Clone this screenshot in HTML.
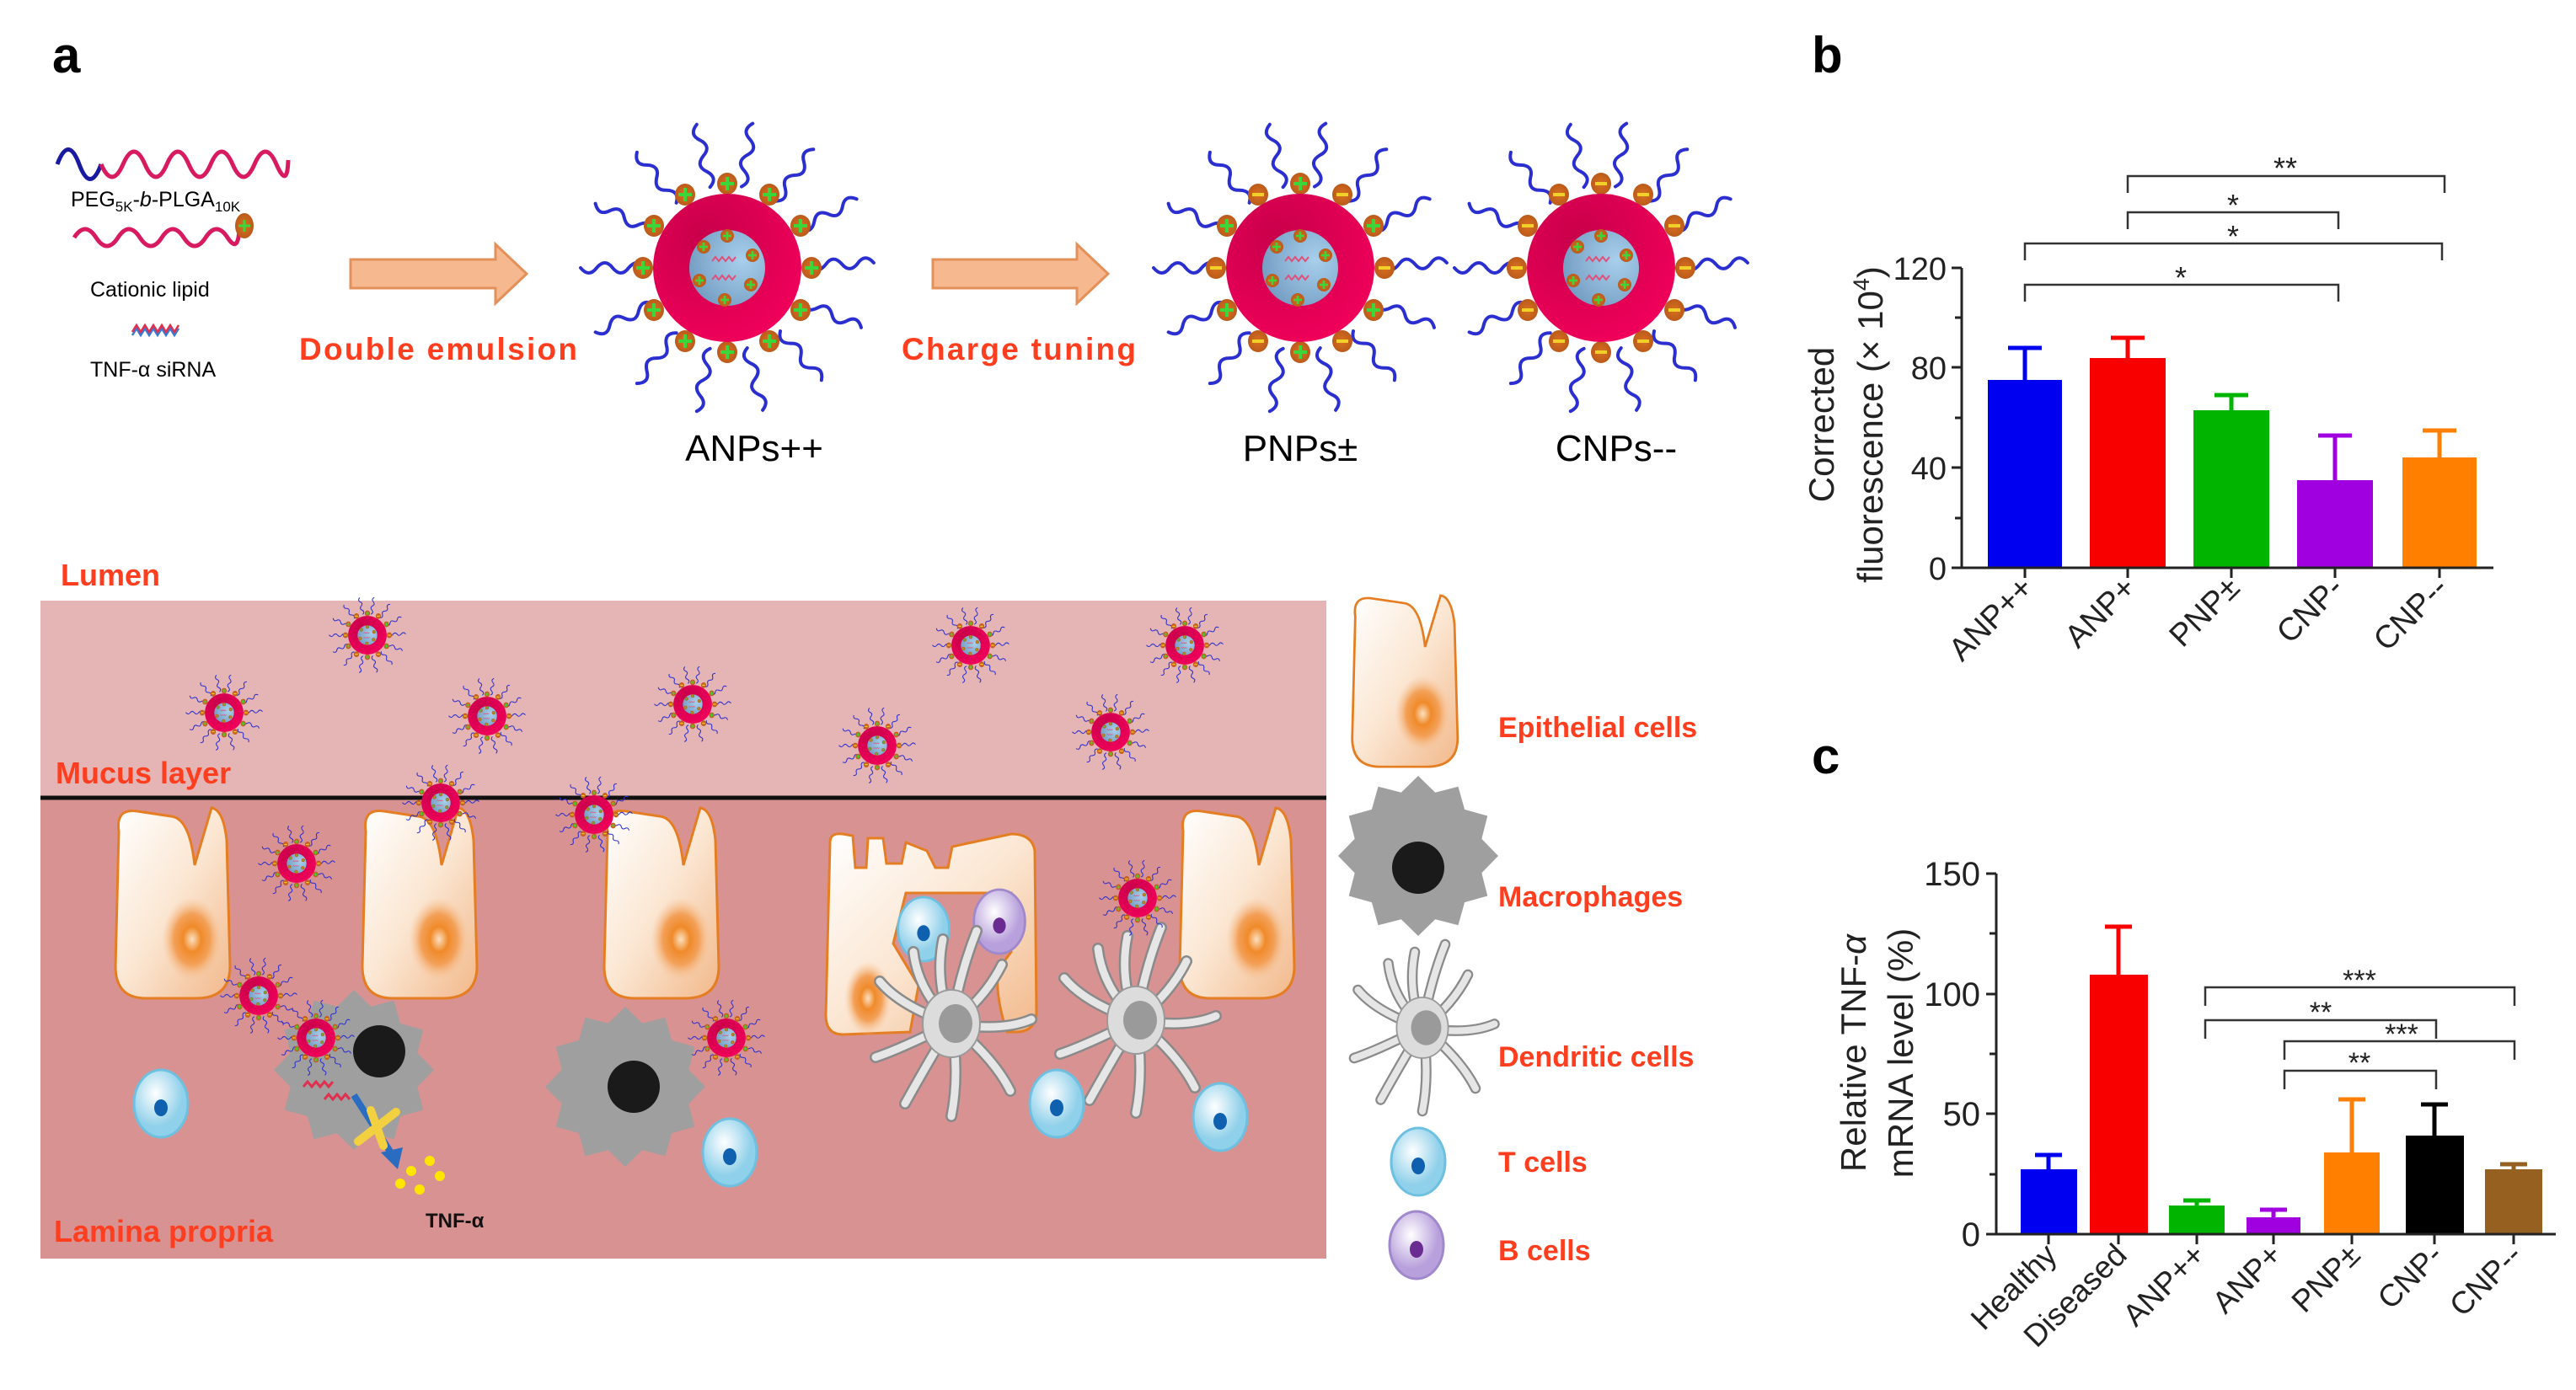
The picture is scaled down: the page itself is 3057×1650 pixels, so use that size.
<!DOCTYPE html>
<html><head><meta charset="utf-8"><style>
html,body{margin:0;padding:0;background:#fff;}
svg{display:block;}
text{font-family:"Liberation Sans",Arial,sans-serif;}
</style></head><body>
<svg width="3057" height="1650" viewBox="0 0 3057 1650" xmlns="http://www.w3.org/2000/svg">
<defs>
<radialGradient id="gOuter" cx="35%" cy="30%" r="75%"><stop offset="0" stop-color="#c8004a"/><stop offset="1" stop-color="#f0005a"/></radialGradient>
<radialGradient id="gInner" cx="70%" cy="40%" r="80%"><stop offset="0" stop-color="#a8d0ec"/><stop offset="1" stop-color="#6f98bf"/></radialGradient>
<radialGradient id="gBead" cx="50%" cy="50%" r="55%"><stop offset="0" stop-color="#d87020"/><stop offset="1" stop-color="#b8581a"/></radialGradient>
<linearGradient id="gEpi" x1="0" y1="0" x2="1" y2="1"><stop offset="0" stop-color="#ffffff"/><stop offset="0.5" stop-color="#fbe6d2"/><stop offset="1" stop-color="#f2b88a"/></linearGradient>
<radialGradient id="gNuc"><stop offset="0" stop-color="#fbe0c0"/><stop offset="0.3" stop-color="#f08a2a"/><stop offset="0.6" stop-color="#f3a058"/><stop offset="1" stop-color="#f7c9a0" stop-opacity="0"/></radialGradient>
<radialGradient id="gT" cx="40%" cy="35%"><stop offset="0" stop-color="#ffffff"/><stop offset="1" stop-color="#8fd0ea"/></radialGradient>
<radialGradient id="gB" cx="40%" cy="35%"><stop offset="0" stop-color="#ffffff"/><stop offset="1" stop-color="#b8a0dc"/></radialGradient>

<g id="chain"><path d="M0,-98 q12,-9 0,-19 q-12,-9 0,-19 q12,-9 0,-19 q-12,-9 0,-19" fill="none" stroke="#2b2fd0" stroke-width="4" stroke-linecap="round"/></g>
<g id="beadP"><ellipse cx="0" cy="0" rx="12" ry="13" fill="url(#gBead)"/><path d="M-8,0 H8 M0,-8 V8" stroke="#3ad63a" stroke-width="4"/></g>
<g id="beadM"><ellipse cx="0" cy="0" rx="12" ry="13" fill="url(#gBead)"/><path d="M-7,0 H7" stroke="#f2d02a" stroke-width="4"/></g>
<g id="beadI"><circle r="8" fill="url(#gBead)"/><path d="M-5,0 H5 M0,-5 V5" stroke="#3ad63a" stroke-width="2.5"/></g>

<g id="core">
<use href="#chain" transform="rotate(10)"/><use href="#chain" transform="rotate(36)"/><use href="#chain" transform="rotate(62)"/><use href="#chain" transform="rotate(88)"/><use href="#chain" transform="rotate(114)"/><use href="#chain" transform="rotate(140)"/><use href="#chain" transform="rotate(166)"/><use href="#chain" transform="rotate(192)"/><use href="#chain" transform="rotate(218)"/><use href="#chain" transform="rotate(244)"/><use href="#chain" transform="rotate(270)"/><use href="#chain" transform="rotate(296)"/><use href="#chain" transform="rotate(322)"/><use href="#chain" transform="rotate(348)"/>
</g>
<g id="center">
<circle r="88" fill="url(#gOuter)"/>
<circle r="45" fill="url(#gInner)"/>
<path d="M-18,-8 l4,-5 l4,5 l4,-5 l4,5 l4,-5 l4,5 l4,-5 M-18,14 l4,-5 l4,5 l4,-5 l4,5 l4,-5 l4,5 l4,-5" fill="none" stroke="#e0507a" stroke-width="2"/>
<use href="#beadI" transform="translate(0,-38)"/><use href="#beadI" transform="translate(30,-15)"/><use href="#beadI" transform="translate(28,20)"/><use href="#beadI" transform="translate(-3,38)"/><use href="#beadI" transform="translate(-33,15)"/><use href="#beadI" transform="translate(-28,-25)"/>
</g>
<g id="ANP">
<use href="#core"/>
<use href="#beadP" transform="translate(0,-100)"/>
<use href="#beadP" transform="translate(50,-87)"/><use href="#beadP" transform="translate(87,-50)"/><use href="#beadP" transform="translate(100,0)"/><use href="#beadP" transform="translate(87,50)"/><use href="#beadP" transform="translate(50,87)"/><use href="#beadP" transform="translate(0,100)"/><use href="#beadP" transform="translate(-50,87)"/><use href="#beadP" transform="translate(-87,50)"/><use href="#beadP" transform="translate(-100,0)"/><use href="#beadP" transform="translate(-87,-50)"/><use href="#beadP" transform="translate(-50,-87)"/>
<use href="#center"/>
</g>
<g id="PNP">
<use href="#core"/>
<use href="#beadP" transform="translate(0,-100)"/><use href="#beadM" transform="translate(50,-87)"/><use href="#beadP" transform="translate(87,-50)"/><use href="#beadM" transform="translate(100,0)"/><use href="#beadP" transform="translate(87,50)"/><use href="#beadM" transform="translate(50,87)"/><use href="#beadP" transform="translate(0,100)"/><use href="#beadM" transform="translate(-50,87)"/><use href="#beadP" transform="translate(-87,50)"/><use href="#beadM" transform="translate(-100,0)"/><use href="#beadP" transform="translate(-87,-50)"/><use href="#beadM" transform="translate(-50,-87)"/>
<use href="#center"/>
</g>
<g id="CNP">
<use href="#core"/>
<use href="#beadM" transform="translate(0,-100)"/><use href="#beadM" transform="translate(50,-87)"/><use href="#beadM" transform="translate(87,-50)"/><use href="#beadM" transform="translate(100,0)"/><use href="#beadM" transform="translate(87,50)"/><use href="#beadM" transform="translate(50,87)"/><use href="#beadM" transform="translate(0,100)"/><use href="#beadM" transform="translate(-50,87)"/><use href="#beadM" transform="translate(-87,50)"/><use href="#beadM" transform="translate(-100,0)"/><use href="#beadM" transform="translate(-87,-50)"/><use href="#beadM" transform="translate(-50,-87)"/>
<use href="#center"/>
</g>
<g id="np"><g transform="scale(0.26)"><use href="#PNP"/></g></g>

<g id="epi">
<path d="M8,30 Q4,2 30,6 L70,12 Q92,14 98,70 L118,2 Q132,4 136,40 L140,190 Q140,228 100,228 L40,228 Q4,228 4,190 Z" fill="url(#gEpi)" stroke="#e57e22" stroke-width="3"/>
<ellipse cx="95" cy="158" rx="36" ry="50" fill="url(#gNuc)"/>
</g>
<g id="mac"><polygon points="95,0 75.3,20.2 82.3,47.5 55.1,55.1 47.5,82.3 20.2,75.3 0,95 -20.2,75.3 -47.5,82.3 -55.1,55.1 -82.3,47.5 -75.3,20.2 -95,0 -75.3,-20.2 -82.3,-47.5 -55.1,-55.1 -47.5,-82.3 -20.2,-75.3 0,-95 20.2,-75.3 47.5,-82.3 55.1,-55.1 82.3,-47.5 75.3,-20.2" fill="#9f9f9f"/></g>
<g id="dcArms" fill="none" stroke-linecap="round">
<path d="M0,0 Q-20,-50 -10,-100 M0,0 Q10,-60 30,-110 M0,0 Q40,-30 60,-70 M0,0 Q60,10 95,-5 M0,0 Q50,40 70,80 M0,0 Q10,60 0,110 M0,0 Q-30,50 -55,95 M0,0 Q-60,30 -90,40 M0,0 Q-60,-20 -85,-50 M0,0 Q-40,-40 -45,-85"/>
</g>
<g id="dc">
<use href="#dcArms" stroke="#8a8a8a" stroke-width="14"/>
<use href="#dcArms" stroke="#e6e6e6" stroke-width="9"/>
<ellipse rx="34" ry="40" fill="#dcdcdc" stroke="#999" stroke-width="2"/>
<ellipse cx="5" cy="0" rx="20" ry="23" fill="#9a9a9a"/>
</g>
<g id="tcell"><ellipse rx="32" ry="40" fill="url(#gT)" stroke="#6ec0e0" stroke-width="3"/><ellipse cx="0" cy="5" rx="8" ry="10" fill="#1060b0"/></g>
<g id="bcell"><ellipse rx="32" ry="40" fill="url(#gB)" stroke="#a088cc" stroke-width="3"/><ellipse cx="0" cy="5" rx="8" ry="10" fill="#6a2c90"/></g>
</defs>

<text x="62" y="86" font-size="60" font-weight="bold">a</text>
<text x="2150" y="86" font-size="60" font-weight="bold">b</text>
<text x="2150" y="918" font-size="60" font-weight="bold">c</text>

<path d="M68,195 Q81,160 94,195 T120,195" fill="none" stroke="#1a1aa0" stroke-width="5"/>
<path d="M120,195 Q133,225 146,195 T172,195 T198,195 T224,195 T250,195 T276,195 T302,195 T328,195 T342,190" fill="none" stroke="#d81b60" stroke-width="5"/>
<text x="84" y="245" font-size="25">PEG<tspan font-size="17" dy="6">5K</tspan><tspan dy="-6">-</tspan><tspan font-style="italic">b</tspan>-PLGA<tspan font-size="17" dy="6">10K</tspan></text>
<path d="M88,282 Q101,262 114,282 T140,282 T166,282 T192,282 T218,282 T244,282 T270,282 T284,270" fill="none" stroke="#d81b60" stroke-width="5"/>
<ellipse cx="290" cy="268" rx="11" ry="15" fill="url(#gBead)"/><path d="M283,268 H297 M290,261 V275" stroke="#3ad63a" stroke-width="3"/>
<text x="107" y="352" font-size="25">Cationic lipid</text>
<path d="M157,398 l5,-8 l5,8 l5,-8 l5,8 l5,-8 l5,8 l5,-8 l5,8 l5,-8 l5,8 l5,-8" fill="none" stroke="#3a7ad0" stroke-width="2.5"/>
<path d="M157,394 l5,-8 l5,8 l5,-8 l5,8 l5,-8 l5,8 l5,-8 l5,8 l5,-8 l5,8 l5,-8" fill="none" stroke="#e03050" stroke-width="2.5"/>
<text x="107" y="447" font-size="25">TNF-α siRNA</text>

<path d="M416,308 H588 V290 L625,325 L588,360 V342 H416 Z" fill="#f6b88e" stroke="#e4905a" stroke-width="3"/>
<path d="M1107,308 H1278 V290 L1315,325 L1278,360 V342 H1107 Z" fill="#f6b88e" stroke="#e4905a" stroke-width="3"/>
<text x="355" y="427" font-size="37" font-weight="bold" fill="#ff3d1f" textLength="330">Double emulsion</text>
<text x="1070" y="427" font-size="37" font-weight="bold" fill="#ff3d1f" textLength="278">Charge tuning</text>

<use href="#ANP" transform="translate(863,318)"/>
<use href="#PNP" transform="translate(1543,318)"/>
<use href="#CNP" transform="translate(1900,318)"/>
<text x="895" y="547" font-size="44" text-anchor="middle">ANPs++</text>
<text x="1543" y="547" font-size="44" text-anchor="middle">PNPs±</text>
<text x="1918" y="547" font-size="44" text-anchor="middle">CNPs--</text>

<rect x="48" y="713" width="1526" height="234" fill="#e5b5b5"/>
<rect x="48" y="947" width="1526" height="547" fill="#d99292"/>
<line x1="48" y1="947" x2="1574" y2="947" stroke="#111" stroke-width="5"/>
<text x="72" y="695" font-size="36" font-weight="bold" fill="#ff3d1f">Lumen</text>
<text x="66" y="930" font-size="36" font-weight="bold" fill="#ff3d1f">Mucus layer</text>
<text x="64" y="1474" font-size="36" font-weight="bold" fill="#ff3d1f">Lamina propria</text>

<use href="#epi" transform="translate(133,957)"/>
<use href="#epi" transform="translate(426,957)"/>
<use href="#epi" transform="translate(713,957)"/>
<use href="#epi" transform="translate(1396,957)"/>
<path d="M985,1000 Q985,988 1000,990 L1012,992 L1015,1030 L1028,1030 L1030,995 L1048,995 L1052,1025 L1070,1025 L1075,1000 L1100,1010 L1110,1030 L1125,1030 L1130,1005 L1200,990 Q1225,990 1228,1010 L1230,1200 Q1230,1225 1205,1225 L1195,1225 Q1180,1180 1185,1150 L1200,1130 L1200,1060 L1075,1060 L1060,1120 L1090,1170 L1080,1225 L1000,1228 Q980,1228 980,1205 Z" fill="url(#gEpi)" stroke="#e57e22" stroke-width="3"/>
<ellipse cx="1030" cy="1185" rx="28" ry="44" fill="url(#gNuc)"/>

<use href="#tcell" transform="translate(1096,1103) scale(0.95)"/>
<use href="#bcell" transform="translate(1186,1094) scale(0.95)"/>

<use href="#mac" transform="translate(420,1270)"/>
<circle cx="450" cy="1248" r="31" fill="#1a1a1a"/>
<use href="#mac" transform="translate(742,1290)"/>
<circle cx="752" cy="1290" r="31" fill="#1a1a1a"/>

<use href="#dc" transform="translate(1129,1215)"/>
<use href="#dc" transform="translate(1348,1211)"/>

<use href="#tcell" transform="translate(191,1310)"/>
<use href="#tcell" transform="translate(866,1368)"/>
<use href="#tcell" transform="translate(1254,1310)"/>
<use href="#tcell" transform="translate(1448,1326)"/>

<use href="#np" transform="translate(436,754)"/>
<use href="#np" transform="translate(266,846)"/>
<use href="#np" transform="translate(578,850)"/>
<use href="#np" transform="translate(822,836)"/>
<use href="#np" transform="translate(1041,885)"/>
<use href="#np" transform="translate(1152,766)"/>
<use href="#np" transform="translate(1318,869)"/>
<use href="#np" transform="translate(1406,766)"/>
<use href="#np" transform="translate(523,953)"/>
<use href="#np" transform="translate(705,967)"/>
<use href="#np" transform="translate(352,1025)"/>
<use href="#np" transform="translate(307,1182)"/>
<use href="#np" transform="translate(375,1232)"/>
<use href="#np" transform="translate(862,1232)"/>
<use href="#np" transform="translate(1350,1066)"/>

<path d="M360,1290 l5,-6 l5,6 l5,-6 l5,6 l5,-6 l5,6 l5,-6 M385,1305 l5,-6 l5,6 l5,-6 l5,6 l5,-6 l5,6" fill="none" stroke="#e03050" stroke-width="3"/>
<path d="M420,1300 L465,1370" stroke="#2a6cc0" stroke-width="8"/>
<polygon points="452,1368 478,1362 472,1388" fill="#2a6cc0"/>
<path d="M425,1355 L470,1320 M440,1318 L455,1360" stroke="#f2d040" stroke-width="10" stroke-linecap="round"/>
<circle cx="488" cy="1390" r="6" fill="#ffe600"/><circle cx="510" cy="1378" r="6" fill="#ffe600"/><circle cx="522" cy="1396" r="6" fill="#ffe600"/><circle cx="498" cy="1412" r="6" fill="#ffe600"/><circle cx="475" cy="1405" r="6" fill="#ffe600"/>
<text x="505" y="1457" font-size="24" font-weight="bold" fill="#111">TNF-α</text>

<use href="#epi" transform="translate(1601,705) scale(0.92,0.9)"/>
<text x="1778" y="875" font-size="34" font-weight="bold" fill="#ff3d1f">Epithelial cells</text>
<use href="#mac" transform="translate(1683,1016)"/>
<circle cx="1683" cy="1030" r="31" fill="#1a1a1a"/>
<text x="1778" y="1076" font-size="34" font-weight="bold" fill="#ff3d1f">Macrophages</text>
<use href="#dc" transform="translate(1688,1220) scale(0.9)"/>
<text x="1778" y="1266" font-size="34" font-weight="bold" fill="#ff3d1f">Dendritic cells</text>
<use href="#tcell" transform="translate(1683,1379)"/>
<text x="1778" y="1391" font-size="34" font-weight="bold" fill="#ff3d1f">T cells</text>
<use href="#bcell" transform="translate(1681,1478)"/>
<text x="1778" y="1496" font-size="34" font-weight="bold" fill="#ff3d1f">B cells</text>

<!-- chart b -->
<g>
<rect x="2359" y="451" width="88" height="223" fill="#0000f0"/>
<rect x="2480" y="425" width="90" height="249" fill="#f80000"/>
<rect x="2603" y="487" width="90" height="187" fill="#00b400"/>
<rect x="2726" y="570" width="90" height="104" fill="#a000e0"/>
<rect x="2851" y="543" width="88" height="131" fill="#ff7f00"/>
<g stroke-width="5">
<path d="M2403,451 V413 M2383,413 H2423" stroke="#0000f0"/>
<path d="M2525,425 V401 M2505,401 H2545" stroke="#f80000"/>
<path d="M2648,487 V469 M2628,469 H2668" stroke="#00b400"/>
<path d="M2771,570 V517 M2751,517 H2791" stroke="#a000e0"/>
<path d="M2895,543 V511 M2875,511 H2915" stroke="#ff7f00"/>
</g>
<path d="M2328,318 V674 H2959" fill="none" stroke="#222" stroke-width="3"/>
<path d="M2316,318 H2328 M2320,377 H2328 M2316,436 H2328 M2320,496 H2328 M2316,555 H2328 M2320,615 H2328 M2316,674 H2328 M2403,674 V686 M2525,674 V686 M2648,674 V686 M2771,674 V686 M2895,674 V686" stroke="#222" stroke-width="3"/>
<g font-size="38" fill="#222" text-anchor="end">
<text x="2310" y="332">120</text><text x="2310" y="450">80</text><text x="2310" y="569">40</text><text x="2310" y="688">0</text>
</g>
<g stroke="#333" stroke-width="2.5" fill="none">
<path d="M2525,229 V209 H2901 V229"/>
<path d="M2525,272 V252 H2775 V272"/>
<path d="M2403,309 V289 H2898 V309"/>
<path d="M2403,358 V338 H2775 V358"/>
</g>
<g font-size="36" fill="#222" text-anchor="middle">
<text x="2712" y="212">**</text><text x="2650" y="256">*</text><text x="2650" y="293">*</text><text x="2588" y="342">*</text>
</g>
<text transform="translate(2176,504) rotate(-90)" font-size="42" text-anchor="middle" fill="#222">Corrected</text>
<text transform="translate(2234,504) rotate(-90)" font-size="42" text-anchor="middle" fill="#222">fluorescence (× 10<tspan font-size="27" dy="-16">4</tspan><tspan dy="16">)</tspan></text>
<g font-size="38" fill="#222" text-anchor="end">
<text transform="translate(2415,700) rotate(-45)">ANP++</text>
<text transform="translate(2537,700) rotate(-45)">ANP+</text>
<text transform="translate(2660,700) rotate(-45)">PNP±</text>
<text transform="translate(2783,700) rotate(-45)">CNP-</text>
<text transform="translate(2907,700) rotate(-45)">CNP--</text>
</g>
</g>

<!-- chart c -->
<g>
<rect x="2398" y="1388" width="67" height="77" fill="#0000f0"/>
<rect x="2480" y="1157" width="69" height="308" fill="#f80000"/>
<rect x="2574" y="1431" width="66" height="34" fill="#00b400"/>
<rect x="2666" y="1445" width="64" height="20" fill="#a000e0"/>
<rect x="2758" y="1368" width="66" height="97" fill="#ff7f00"/>
<rect x="2855" y="1348" width="69" height="117" fill="#000"/>
<rect x="2949" y="1388" width="68" height="77" fill="#956020"/>
<g stroke-width="5">
<path d="M2431,1388 V1371 M2415,1371 H2447" stroke="#0000f0"/>
<path d="M2514,1157 V1100 M2498,1100 H2530" stroke="#f80000"/>
<path d="M2607,1431 V1425 M2591,1425 H2623" stroke="#00b400"/>
<path d="M2698,1445 V1436 M2682,1436 H2714" stroke="#a000e0"/>
<path d="M2791,1368 V1305 M2775,1305 H2807" stroke="#ff7f00"/>
<path d="M2889,1348 V1311 M2873,1311 H2905" stroke="#000"/>
<path d="M2983,1388 V1382 M2967,1382 H2999" stroke="#956020"/>
</g>
<path d="M2369,1037 V1465 H3033" fill="none" stroke="#222" stroke-width="3"/>
<path d="M2357,1037 H2369 M2361,1108 H2369 M2357,1180 H2369 M2361,1251 H2369 M2357,1322 H2369 M2361,1394 H2369 M2357,1465 H2369 M2431,1465 V1477 M2514,1465 V1477 M2607,1465 V1477 M2698,1465 V1477 M2791,1465 V1477 M2889,1465 V1477 M2983,1465 V1477" stroke="#222" stroke-width="3"/>
<g font-size="40" fill="#222" text-anchor="end">
<text x="2350" y="1051">150</text><text x="2350" y="1194">100</text><text x="2350" y="1336">50</text><text x="2350" y="1479">0</text>
</g>
<g stroke="#333" stroke-width="2.5" fill="none">
<path d="M2617,1194 V1172 H2984 V1194"/>
<path d="M2617,1233 V1211 H2891 V1233"/>
<path d="M2711,1258 V1236 H2984 V1258"/>
<path d="M2711,1293 V1271 H2891 V1293"/>
</g>
<g font-size="34" fill="#222" text-anchor="middle">
<text x="2800" y="1175">***</text><text x="2754" y="1213">**</text><text x="2850" y="1239">***</text><text x="2800" y="1273">**</text>
</g>
<text transform="translate(2214,1250) rotate(-90)" font-size="42" text-anchor="middle" fill="#222">Relative TNF-<tspan font-style="italic">α</tspan></text>
<text transform="translate(2270,1250) rotate(-90)" font-size="42" text-anchor="middle" fill="#222">mRNA level (%)</text>
<g font-size="37" fill="#222" text-anchor="end">
<text transform="translate(2443,1492) rotate(-45)">Healthy</text>
<text transform="translate(2526,1492) rotate(-45)">Diseased</text>
<text transform="translate(2619,1492) rotate(-45)">ANP++</text>
<text transform="translate(2710,1492) rotate(-45)">ANP+</text>
<text transform="translate(2803,1492) rotate(-45)">PNP±</text>
<text transform="translate(2901,1492) rotate(-45)">CNP-</text>
<text transform="translate(2995,1492) rotate(-45)">CNP--</text>
</g>
</g>
</svg>
</body></html>
